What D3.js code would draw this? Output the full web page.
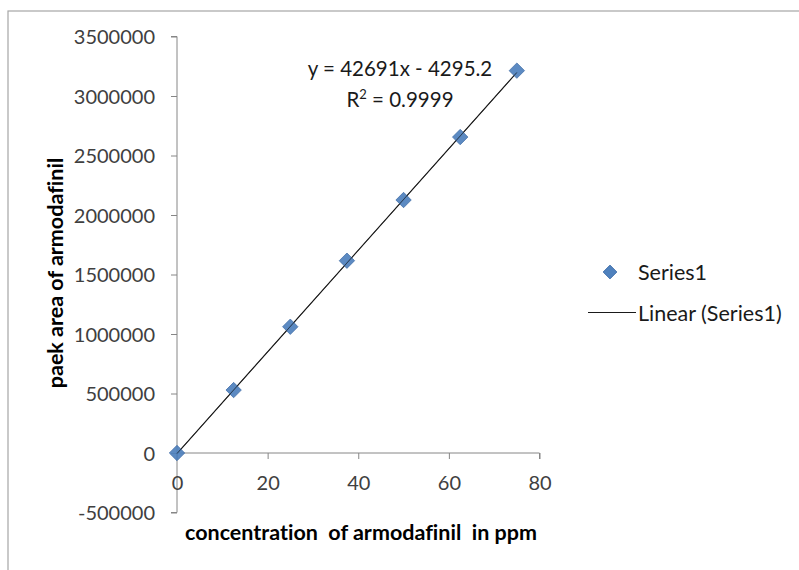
<!DOCTYPE html>
<html><head><meta charset="utf-8">
<script src="https://cdn.jsdelivr.net/npm/d3@7"></script>
<style>
body{margin:0;background:#fff;}
svg text{font-family:Lato,"Open Sans",sans-serif;font-variant-ligatures:none;}
</style></head>
<body><svg id="c" width="799" height="570"></svg>
<script>
const concentrations = [0, 12.5, 25, 37.5, 50, 62.5, 75];
const peakAreas = [0, 529000, 1061000, 1616000, 2126000, 2655000, 3213000];
const xTicks = [0, 20, 40, 60, 80];
const yTicks = [-500000, 0, 500000, 1000000, 1500000, 2000000, 2500000, 3000000, 3500000];
const slope = 42691, intercept = -4295.2;
const equationText = "y = 42691x - 4295.2";
const seriesName = "Series1";
const trendName = "Linear (Series1)";
const xTitle = "concentration  of armodafinil  in ppm";
const yTitle = "paek area of armodafinil";

const svg = d3.select("#c");
svg.append("rect").attr("x",8).attr("y",11).attr("width",820).attr("height",600)
  .attr("fill","none").attr("stroke","#a6a6a6").attr("stroke-width",1.2);

const x = d3.scaleLinear().domain([0,80]).range([177,539.5]);
const y = d3.scaleLinear().domain([-500000,3500000]).range([512.5,36.5]);

const axisColor = "#868686", textColor = "#404040";
const fmt = d => String(d);

// y axis
const gy = svg.append("g").attr("transform","translate(177,0)")
  .call(d3.axisLeft(y).tickValues(yTicks).tickSize(6).tickPadding(16).tickFormat(fmt));
gy.select(".domain").attr("stroke",axisColor).attr("d",`M-6,${y(3500000)}H0V${y(-500000)}H-6`);
gy.selectAll(".tick line").attr("stroke",axisColor);
gy.selectAll(".tick text").attr("fill",textColor).style("font-size","20px").attr("dy","0.35em");

// x axis at y=0
const gx = svg.append("g").attr("transform",`translate(0,${y(0)})`)
  .call(d3.axisBottom(x).tickValues(xTicks).tickSize(6).tickPadding(19).tickFormat(fmt));
gx.select(".domain").attr("stroke",axisColor).attr("d",`M${x(0)},6V0H${x(80)}V6`);
gx.selectAll(".tick line").attr("stroke",axisColor);
gx.selectAll(".tick text").attr("fill",textColor).style("font-size","20px").attr("dy","0.35em").attr("y",30);

// trendline
svg.append("line")
  .attr("x1",x(0)).attr("y1",y(intercept))
  .attr("x2",x(75)).attr("y2",y(slope*75+intercept))
  .attr("stroke","#1a1a1a").attr("stroke-width",1.1);

// markers
const diamond = d3.symbol().type(d3.symbolSquare).size(118);
svg.selectAll("path.pt").data(concentrations).join("path").attr("class","pt")
  .attr("d",diamond)
  .attr("transform",(d,i)=>`translate(${x(d)},${y(peakAreas[i])}) rotate(45)`)
  .attr("fill","#4f81bd").attr("stroke","#3c6aa6").attr("stroke-width",0.8).attr("opacity",0.92);
svg.append("line")
  .attr("x1",x(0)).attr("y1",y(intercept))
  .attr("x2",x(75)).attr("y2",y(slope*75+intercept))
  .attr("stroke","#1a1a1a").attr("stroke-width",0.9).attr("opacity",0.7);

// equation
svg.append("text").attr("x",400).attr("y",76).attr("text-anchor","middle")
  .style("font-size","20.5px").attr("fill","#1a1a1a").text(equationText);
const r2 = svg.append("text").attr("x",400).attr("y",107).attr("text-anchor","middle")
  .style("font-size","20.5px").attr("fill","#1a1a1a");
r2.append("tspan").text("R");
r2.append("tspan").attr("dy",-8).style("font-size","13px").text("2");
r2.append("tspan").attr("dy",8).text(" = 0.9999");

// axis titles
svg.append("text").attr("x",361).attr("y",540).attr("text-anchor","middle")
  .style("font-size","21.5px").style("font-weight","bold").style("white-space","pre")
  .attr("fill","#000").text(xTitle);
svg.append("text").attr("transform","translate(63,273) rotate(-90)").attr("text-anchor","middle")
  .style("font-size","21.5px").style("font-weight","bold").attr("fill","#000").text(yTitle);

// legend
svg.append("path").attr("d",d3.symbol().type(d3.symbolSquare).size(95))
  .attr("transform","translate(610,272) rotate(45)").attr("fill","#4f81bd").attr("stroke","#3c6aa6").attr("stroke-width",0.8);
svg.append("text").attr("x",638).attr("y",272).attr("dy","0.35em").style("font-size","21.5px").attr("fill","#1a1a1a").text(seriesName);
svg.append("line").attr("x1",588).attr("x2",636).attr("y1",312.5).attr("y2",312.5).attr("stroke","#1a1a1a").attr("stroke-width",1.1);
svg.append("text").attr("x",638).attr("y",313).attr("dy","0.35em").style("font-size","21.5px").attr("fill","#1a1a1a").text(trendName);
</script></body></html>
